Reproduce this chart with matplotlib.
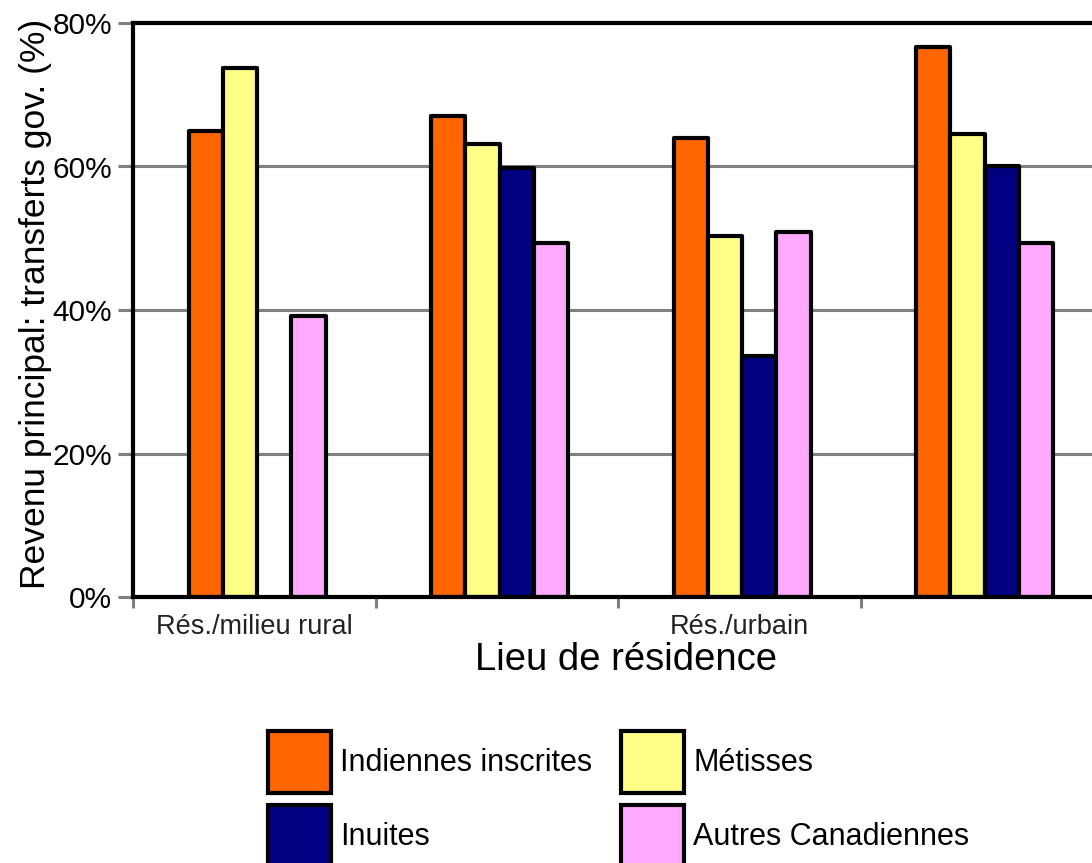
import numpy as np
import matplotlib
matplotlib.use("Agg")
import matplotlib.pyplot as plt

plt.rcParams['font.family'] = ['Liberation Sans', 'DejaVu Sans']

# valeurs (%)
groupes = ["Rés./milieu rural", "", "Rés./urbain", ""]
series = ["Indiennes inscrites", "Métisses", "Inuites", "Autres Canadiennes"]
indiennes = [65.0, 67.0, 64.0, 76.7]
metisses = [73.7, 63.1, 50.3, 64.5]
inuites = [np.nan, 59.8, 33.6, 60.1]
autres = [39.2, 49.3, 50.9, 49.3]
couleurs = ["#ff6600", "#ffff88", "#000080", "#ffaaff"]
y_ticks = [0, 20, 40, 60, 80]

fig = plt.figure(figsize=(10.92, 8.63), dpi=100)
ax = fig.add_axes([133/1092, 266/863, 970/1092, 574/863])

x = np.arange(len(groupes))
w = 0.141
barres = []
for i, vals in enumerate([indiennes, metisses, inuites, autres]):
    b = ax.bar(x + (i - 1.5) * w + 0.012, vals, w, color=couleurs[i], edgecolor="black",
               linewidth=3, joinstyle="round", zorder=3, label=series[i])
    barres.append(b)

ax.set_xlim(-0.5, 3.5)
ax.set_ylim(0, 80)
ax.set_yticks(y_ticks)
ax.set_yticklabels([f"{v}%" for v in y_ticks], fontsize=21.5)
ax.yaxis.grid(True, color="#808080", linewidth=2.2, zorder=0)
ax.tick_params(axis="y", length=11, width=2.2, color="#808080", pad=4)

ax.set_xticks(x - 0.5)
ax.set_xticklabels([])
ax.tick_params(axis="x", which="major", length=8, width=2.2, color="#808080")
ax.set_xticks(x, minor=True)
ax.set_xticklabels(groupes, minor=True, fontsize=19.5, color="#222222")
ax.tick_params(axis="x", which="minor", length=0, pad=12)

for s in ["left", "top", "bottom"]:
    ax.spines[s].set_linewidth(3)
    ax.spines[s].set_zorder(4)
ax.spines["right"].set_visible(False)

ax.set_xlabel("Lieu de résidence", fontsize=27.5)
ax.xaxis.set_label_coords(0.508, -0.079)
ax.set_ylabel("Revenu principal: transferts gov. (%)", fontsize=25.5)
ax.yaxis.set_label_coords(-0.083, 0.51)

ordre = [0, 2, 1, 3]
fig.legend([barres[i] for i in ordre], [series[i] for i in ordre], ncol=2,
           loc="upper left", bbox_to_anchor=(268/1092, 1 - 731/863),
           frameon=False, fontsize=22, handlelength=2.06, handleheight=2.74,
           handletextpad=0.3, labelspacing=0.395, columnspacing=0.95, borderpad=0,
           borderaxespad=0)

fig.savefig("out.png", dpi=100)
